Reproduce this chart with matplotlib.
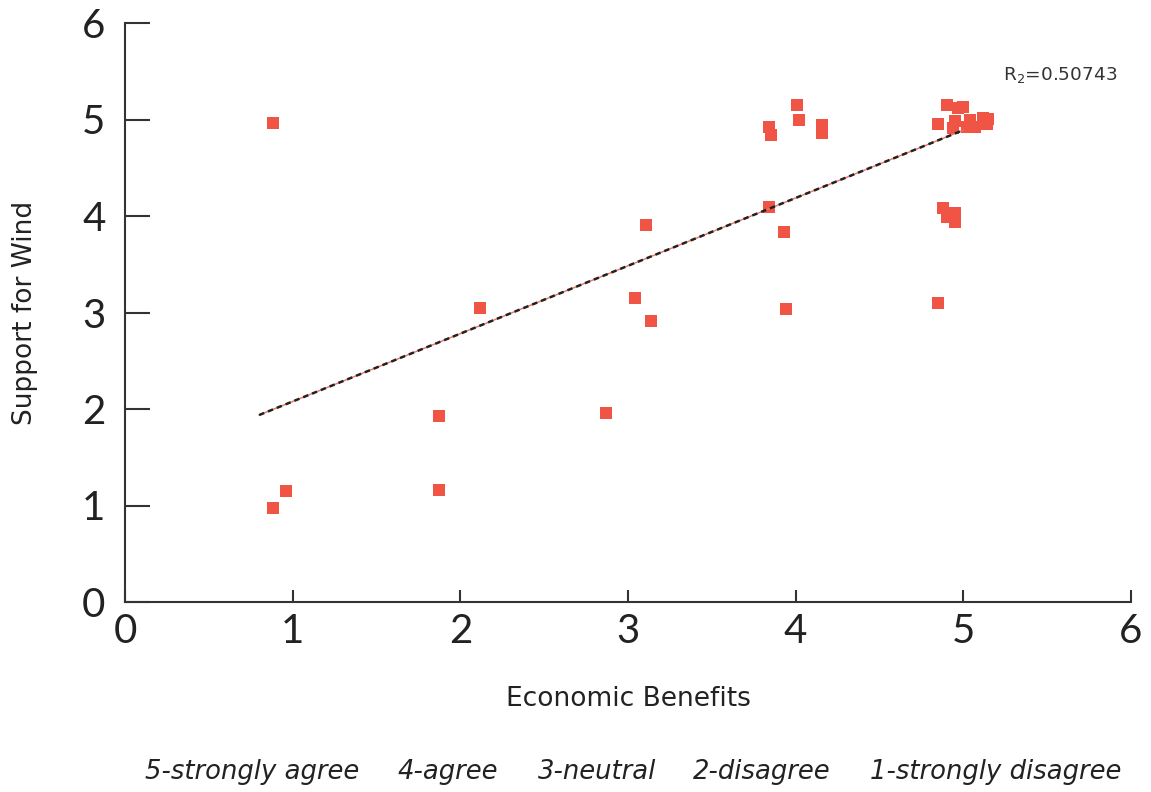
import numpy as np
import matplotlib
matplotlib.use("Agg")
import matplotlib.pyplot as plt

plt.rcParams['font.family'] = ['Lato', 'DejaVu Sans']

# survey responses (economic benefits vs support for wind)
econ = [0.88, 0.88, 0.96, 1.87, 1.87, 2.12, 2.87, 3.04, 3.14, 3.11,
        3.84, 3.85, 4.01, 4.02, 4.16, 4.16, 3.84, 3.93, 3.94,
        4.85, 4.85, 4.88, 4.90, 4.95, 4.95,
        4.90, 4.97, 5.00, 4.95, 4.94, 5.04, 5.12, 5.14, 5.07, 5.02, 5.15]
support = [4.96, 0.97, 1.15, 1.16, 1.93, 3.05, 1.96, 3.15, 2.91, 3.91,
           4.92, 4.84, 5.15, 5.00, 4.94, 4.86, 4.09, 3.83, 3.04,
           3.10, 4.95, 4.08, 3.99, 4.03, 3.94,
           5.15, 5.12, 5.13, 4.98, 4.91, 5.00, 5.02, 4.95, 4.92, 4.92, 5.01]

trend_slope = 0.703
trend_intercept = 1.375
trend_x = [0.8, 5.0]
r2_text = 'R$_2$=0.50743'

scale_labels = ['5-strongly agree', '4-agree', '3-neutral', '2-disagree', '1-strongly disagree']
scale_xpos = [145, 398, 538, 693, 870]

label_font = ['DejaVu Sans']

fig = plt.figure(figsize=(11.51, 7.92), dpi=100)
ax = fig.add_axes([125/1151, 1 - 602/792, (1131-125)/1151, (602-23)/792])

ax.scatter(econ, support, marker='s', s=80, color='#F05444', linewidths=0, zorder=3)

tx = np.array(trend_x)
ty = trend_slope * tx + trend_intercept
ax.plot(tx, ty, color='#F07060', lw=1.0, zorder=4)
ax.plot(tx, ty, color='#222222', lw=1.8, ls=(0, (2.2, 1.6)), zorder=5)

ax.text(5.235, 5.46, r2_text, fontsize=13.3, family=label_font, color='#333333',
        va='center', ha='left')

ax.set_xlim(0, 6)
ax.set_ylim(0, 6)
ax.set_xticks(range(7))
ax.set_yticks(range(7))
for s in ['top', 'right']:
    ax.spines[s].set_visible(False)
for s in ['left', 'bottom']:
    ax.spines[s].set_color('#333333')
    ax.spines[s].set_linewidth(1.5)
ax.tick_params(axis='y', direction='in', length=18, width=1.5, color='#333333',
               labelsize=29, pad=14, labelcolor='#222222')
ax.tick_params(axis='x', direction='in', length=9, width=1.5, color='#333333',
               labelsize=29, pad=8, labelcolor='#222222')

ax.set_xlabel('Economic Benefits', fontsize=19, family=label_font,
              color='#222222', labelpad=26)
ax.set_ylabel('Support for Wind', fontsize=19, family=label_font,
              color='#222222', labelpad=32)

for lab, xp in zip(scale_labels, scale_xpos):
    fig.text(xp/1151, 1 - 772/792, lab, fontsize=18.6, style='italic',
             family=label_font, color='#222222', ha='left', va='center')

fig.savefig('out.png', dpi=100)
